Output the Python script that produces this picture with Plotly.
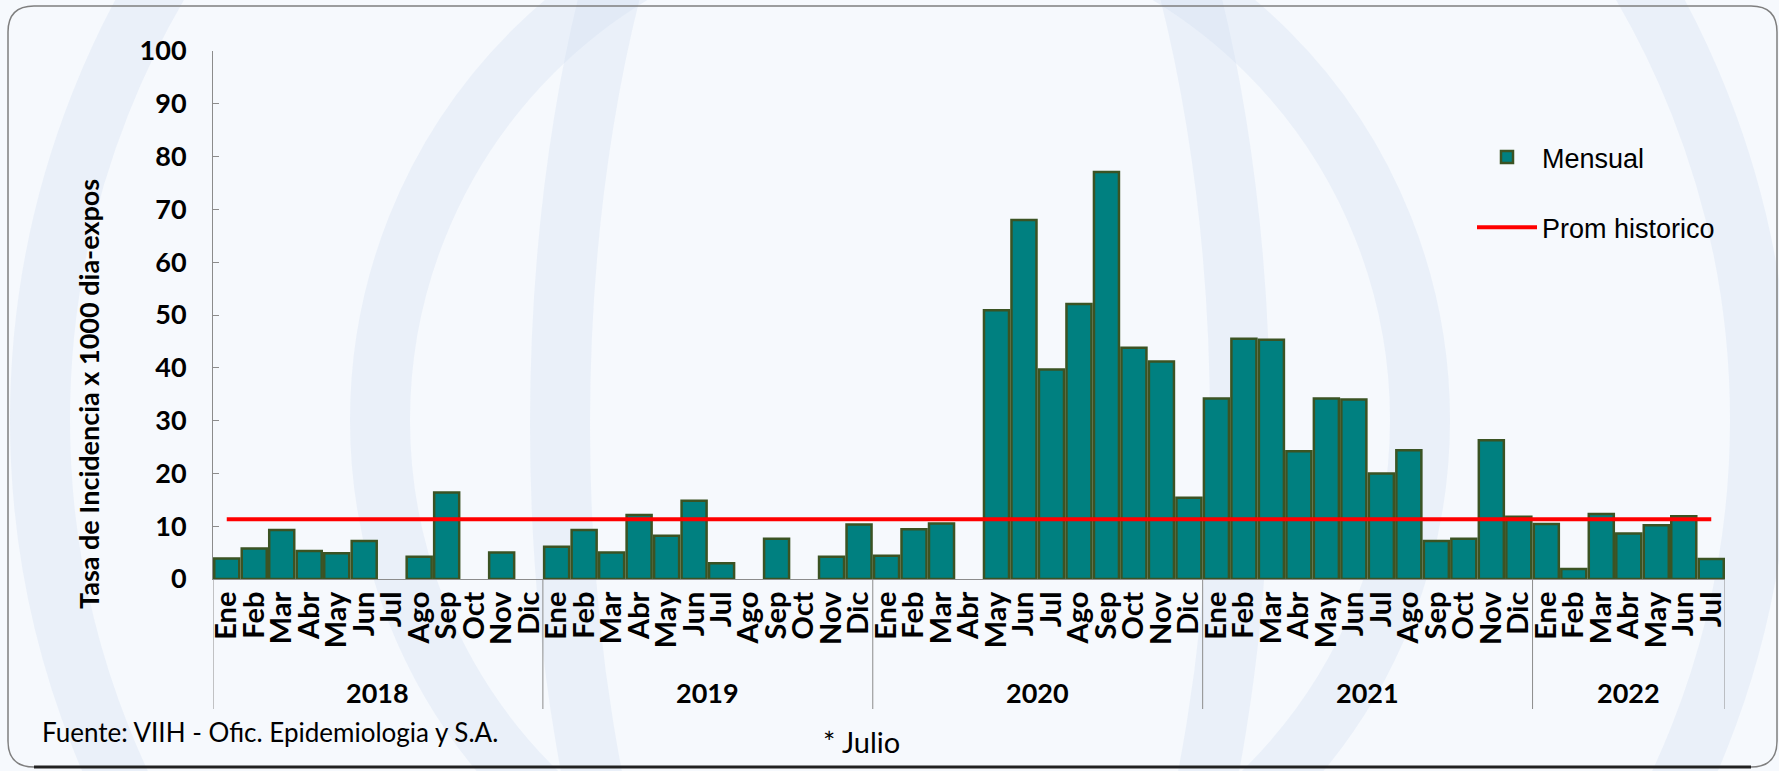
import plotly.graph_objects as go

# Colours
TEAL = "#008080"
OLIVE = "#3b5323"
RED = "#ff0000"
GRAY = "#8c8c8c"

# Data
months = ["Ene", "Feb", "Mar", "Abr", "May", "Jun",
          "Jul", "Ago", "Sep", "Oct", "Nov", "Dic"]
years = ["2018", "2019", "2020", "2021", "2022"]
months_per_year = [12, 12, 12, 12, 7]

rate_2018 = [3.9, 5.8, 9.3, 5.3, 4.9, 7.2, None, 4.2, 16.4, None, 5.0, None]
rate_2019 = [6.1, 9.3, 5.0, 12.1, 8.2, 14.8, 3.0, None, 7.6, None, 4.2, 10.3]
rate_2020 = [4.4, 9.4, 10.5, None, 50.9, 68.0, 39.7, 52.1, 77.1, 43.8, 41.2, 15.4]
rate_2021 = [34.2, 45.5, 45.3, 24.2, 34.2, 34.0, 20.0, 24.4, 7.2, 7.6, 26.3, 11.8]
rate_2022 = [10.4, 1.9, 12.3, 8.6, 10.2, 11.9, 3.8]

prom_historico = 11.3

y_ticks = [0, 10, 20, 30, 40, 50, 60, 70, 80, 90, 100]

# Build category axis
mensual = rate_2018 + rate_2019 + rate_2020 + rate_2021 + rate_2022
labels = []
for n in months_per_year:
    labels += months[:n]
x = list(range(len(labels)))

# pixel layout helpers (plot area in the 1779x771 window)
W, H = 1779, 771
L, R, T, B = 213, 54, 51, 192
PW, PH = W - L - R, H - T - B


def px(xp):
    return (xp - L) / PW


def py(yp):
    return (H - B - yp) / PH


fig = go.Figure()

fig.add_trace(go.Bar(
    x=x, y=mensual, name="Mensual",
    marker=dict(color=TEAL, line=dict(color=OLIVE, width=2.5)),
    legendgroup="a",
))

fig.add_trace(go.Scatter(
    x=x, y=[prom_historico] * len(x), name="Prom historico",
    mode="lines", line=dict(color=RED, width=4),
    legendgroup="b",
))

# year dividers and labels
shapes = []
annotations = []
start = 0
bounds = [-0.5]
for yr, n in zip(years, months_per_year):
    annotations.append(dict(
        x=start + (n - 1) / 2, y=py(692), xref="x", yref="paper",
        xanchor="center", yanchor="middle",
        text=yr, showarrow=False,
        font=dict(family="Lato", size=27, color="black", weight="bold"),
    ))
    start += n
    bounds.append(start - 0.5)

for b in bounds:
    shapes.append(dict(
        type="line", xref="x", yref="paper",
        x0=b, x1=b, y0=0, y1=py(709),
        line=dict(color=GRAY, width=1),
    ))

# outer frame
x0, x1 = px(8), px(1777)
y0, y1 = py(767), py(6)
rx, ry = 26 / PW, 26 / PH
frame = (f"M {x0 + rx},{y1} L {x1 - rx},{y1} Q {x1},{y1} {x1},{y1 - ry} "
         f"L {x1},{y0 + ry} Q {x1},{y0} {x1 - rx},{y0} "
         f"L {x0 + rx},{y0} Q {x0},{y0} {x0},{y0 + ry} "
         f"L {x0},{y1 - ry} Q {x0},{y1} {x0 + rx},{y1} Z")
shapes.insert(0, dict(type="path", xref="paper", yref="paper", path=frame,
                      line=dict(color="#7f7f7f", width=1.5), layer="below"))
# darker bottom edge
shapes.append(dict(type="line", xref="paper", yref="paper",
                   x0=x0 + rx, x1=x1 - rx, y0=y0, y1=y0,
                   line=dict(color="#222222", width=3)))

# faint watermark bands
wm = "rgba(205,218,240,0.28)"
for cx, cy, r in [(900, 420, 860), (900, 420, 520)]:
    shapes.insert(0, dict(type="circle", xref="paper", yref="paper",
                          x0=px(cx - r), x1=px(cx + r), y0=py(cy + r), y1=py(cy - r),
                          line=dict(color=wm, width=60), layer="below"))
shapes.insert(0, dict(type="circle", xref="paper", yref="paper",
                      x0=px(560), x1=px(1240), y0=py(1250), y1=py(-400),
                      line=dict(color=wm, width=60), layer="below"))

annotations += [
    dict(x=px(88), y=py(394), xref="paper", yref="paper",
         xanchor="center", yanchor="middle",
         text="Tasa de Incidencia x 1000 dia-expos", textangle=-90,
         showarrow=False,
         font=dict(family="Lato", size=27, color="black", weight="bold")),
    dict(x=px(40), y=py(732), xref="paper", yref="paper",
         xanchor="left", yanchor="middle",
         text="Fuente: VIIH - Ofic. Epidemiologia y S.A.", showarrow=False,
         font=dict(family="Lato", size=26, color="black")),
    dict(x=px(861), y=py(741), xref="paper", yref="paper",
         xanchor="center", yanchor="middle",
         text="* Julio", showarrow=False,
         font=dict(family="Lato", size=29, color="black")),
]

fig.update_layout(
    width=W, height=H,
    margin=dict(l=L, r=R, t=T, b=B),
    paper_bgcolor="#f6f9fd",
    plot_bgcolor="rgba(0,0,0,0)",
    bargap=0.09,
    shapes=shapes,
    annotations=annotations,
    legend=dict(
        x=px(1472), y=py(133), xanchor="left", yanchor="top",
        font=dict(family="Liberation Sans", size=27, color="black"),
        bgcolor="rgba(0,0,0,0)", tracegroupgap=32, itemwidth=60,
    ),
    xaxis=dict(
        range=[-0.5, len(x) - 0.5],
        tickmode="array", tickvals=x, ticktext=labels, tickangle=-90,
        tickfont=dict(family="Lato", size=29, color="black", weight="bold"),
        showline=True, linecolor=GRAY, linewidth=1,
        showgrid=False, zeroline=False, ticks="",
    ),
    yaxis=dict(
        range=[0, 100], tickvals=y_ticks,
        tickfont=dict(family="Lato", size=27, color="black", weight="bold"),
        showline=True, linecolor=GRAY, linewidth=1,
        ticks="inside", ticklen=6, tickcolor=GRAY,
        ticklabelstandoff=20,
        showgrid=False, zeroline=False,
    ),
)

fig.write_html("out.html", config={"displayModeBar": False},
               post_script="document.body.style.margin='0';")
